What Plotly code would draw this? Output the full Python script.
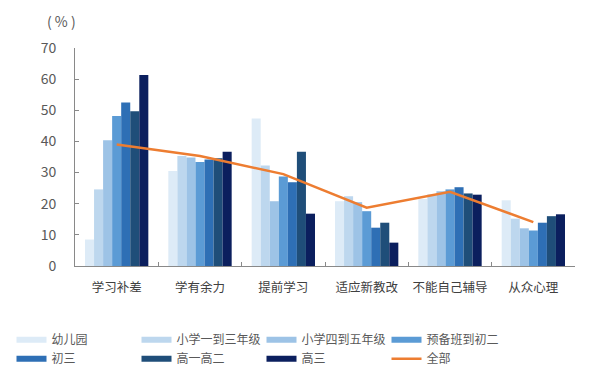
import plotly.graph_objects as go

categories = ["学习补差", "学有余力", "提前学习", "适应新教改", "不能自己辅导", "从众心理"]
series_names = ["幼儿园", "小学一到三年级", "小学四到五年级", "预备班到初二", "初三", "高一高二", "高三"]
series_values = [
    [8.5, 30.5, 47.4, 20.8, 21.5, 21.1],
    [24.6, 35.3, 32.3, 22.4, 23.0, 15.2],
    [40.4, 34.8, 20.8, 20.5, 24.0, 12.1],
    [48.2, 33.4, 28.7, 17.6, 24.6, 11.4],
    [52.5, 34.2, 26.9, 12.3, 25.3, 13.9],
    [49.7, 34.6, 36.7, 13.9, 23.3, 16.0],
    [61.3, 36.7, 16.8, 7.5, 22.9, 16.6],
]
total_name = "全部"
total_values = [39.0, 35.3, 29.5, 18.7, 23.8, 14.1]
y_ticks = [0, 10, 20, 30, 40, 50, 60, 70]

colors = ["#DDEBF7", "#BDD7EE", "#9DC3E6", "#5B9BD5", "#2E6FB5", "#1F4E79", "#0B1F5E"]
line_color = "#ED7D31"
font_family = "Noto Sans CJK SC, Noto Sans, sans-serif"

fig = go.Figure()
for name, vals, c in zip(series_names, series_values, colors):
    fig.add_trace(go.Bar(x=categories, y=vals, name=name, marker_color=c,
                         marker_line_width=0, showlegend=False))
fig.add_trace(go.Scatter(x=categories, y=total_values, name=total_name, mode="lines",
                         line=dict(color=line_color, width=2.5), showlegend=False))

# legend entries (thick line swatches resembling the reference's rectangles)
for name, c in zip(series_names, colors):
    fig.add_trace(go.Scatter(x=[None], y=[None], mode="lines", name=name,
                             line=dict(color=c, width=6)))
fig.add_trace(go.Scatter(x=[None], y=[None], mode="lines", name=total_name,
                         line=dict(color=line_color, width=2.5)))

fig.update_layout(
    width=600, height=388,
    margin=dict(l=70, r=25, t=48, b=122),
    plot_bgcolor="white", paper_bgcolor="white",
    barmode="group", bargap=0.24, bargroupgap=0,
    font=dict(family=font_family, color="#595959", size=12),
    legend=dict(orientation="h", x=-0.127, xanchor="left", y=-0.272, yanchor="top",
                entrywidth=80, entrywidthmode="pixels",
                font=dict(size=12, color="#595959"), traceorder="normal",
                itemwidth=30),
    annotations=[dict(text="( % )", xref="paper", yref="paper", x=-0.027, y=1.125,
                      xanchor="center", yanchor="middle", showarrow=False,
                      font=dict(size=14, color="#595959"))],
)
fig.update_xaxes(type="category", showline=True, linecolor="#898989", linewidth=1,
                 ticks="inside", tickson="boundaries", ticklen=4, tickcolor="#898989",
                 tickfont=dict(size=12.5, color="#404040"), showgrid=False,
                 tickangle=0, ticklabelstandoff=10, automargin=False)
fig.update_yaxes(range=[0, 70], tickvals=y_ticks, showline=True, linecolor="#898989",
                 linewidth=1, ticks="inside", ticklen=4, tickcolor="#898989",
                 tickfont=dict(size=14, color="#595959"), showgrid=False, zeroline=False,
                 ticklabelstandoff=15, automargin=False)

fig.write_html("out.html", config={"displayModeBar": False},
               post_script="document.body.style.margin='0';")
